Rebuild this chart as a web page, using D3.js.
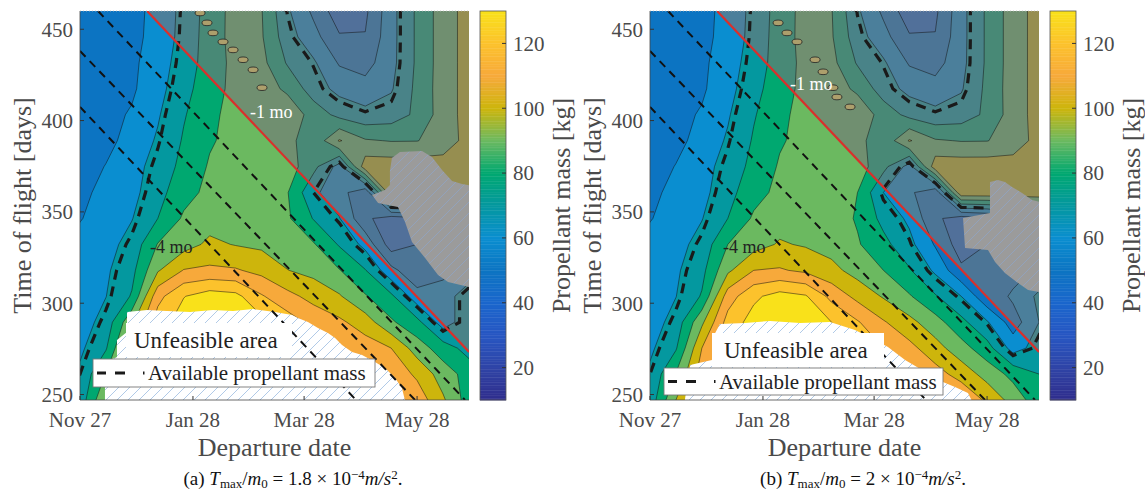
<!DOCTYPE html>
<html><head><meta charset="utf-8">
<script src="https://cdn.jsdelivr.net/npm/d3@7/dist/d3.min.js"></script>
<style>
body{margin:0;background:#fff;}
svg text{font-family:"Liberation Serif","DejaVu Serif",serif;}
</style></head>
<body><svg id="chart" width="1145" height="491"></svg>
<script>
// ---------------- DATA ----------------
// departure day (days after Nov 27) of each grid column
const depDays = [0,14.23,28.47,42.7,56.93,71.17,85.4,99.63,113.87,128.1,142.33,156.57,170.8,185.03,199.27,213.5];
// time of flight (days) of each grid row, top to bottom
const tofDays = [460,445.8,431.6,417.4,403.2,389,374.8,360.6,346.4,332.2,318,303.8,289.6,275.4,261.2,247];
// propellant mass [kg], panel (a)  T/m0 = 1.8e-4
const massA = [
 [53,55,58,62,73.5,84,94,90.5,71.5,58,44,48,66.7,81.7,95,104],
 [53,55.5,58,62.5,74,84.3,94,91,74.3,63.6,51,50.5,66.7,81.7,95,104],
 [53.5,56,58,65.2,74.8,84.5,93,93,79,71.5,59,56,67,81.7,95,104],
 [54,57,58.5,66.6,76.8,85.6,93,95,88,74.9,67,64,69,82.5,95,104],
 [54.5,57,61,69,79.2,87,94.5,96,97,86,77,73,75,82,95,104],
 [54.5,57,63.8,71.2,81,89,93,95,94,82,101,91,89.5,89.7,94,104],
 [55,60.4,66.4,73.8,83,91,94,96,95,83,66,106,106,106,105,105],
 [57,63.5,67,76.5,86.5,92.5,95,97,90.5,72,64,52,108,108,108,108],
 [59.5,64,69.6,80,91.5,96,96,96,91.5,79.5,70.5,52,45,48,55,62],
 [63,66.5,73.6,90.5,96,102,99.5,98,95,91,79,67,45,50,57,63],
 [67,68.5,77,99,110.5,112,111,107,100.2,97,90.5,80.5,63,52,57,64],
 [66,69.8,80.9,116.7,129.6,135,133,121,113,106.6,101,90.9,82,64,65,76],
 [65,74,98,125,135,138,137,133,125,117,112,105,91.5,83,65,76],
 [68,79,110,128,136,138,136,132,127,122,121,115,110,95,85,76],
 [72,90.5,115,125,132,135,134,131,128,126,124,122,117,108,95,86],
 [74,100,112,120,127,130,130,129,127,125,124,122,121,116,101.5,85]
];
// propellant mass [kg], panel (b)  T/m0 = 2e-4
const massB = [
 [53,55,58,62,73.5,84,94,90.5,71.5,58,44,48,66.7,81.7,95,104],
 [53,55.5,58,62.5,74,84.3,94,91,74.3,63.6,51,50.5,66.7,81.7,95,104],
 [53.5,56,58,65.2,74.8,84.5,93,93,79,71.5,59,56,67,81.7,95,104],
 [54,57,58.5,66.6,76.8,85.6,93,95,88,74.9,67,64,69,82.5,95,104],
 [54.5,57,61,69,79.2,87,94.5,96,97,86,77,73,75,82,95,104],
 [54.5,57,63.8,71.2,81,89,93,95,94,82,101,91,89.5,89.7,94,104],
 [55,60.4,66.4,73.8,83,91,94,96,95,83,66,106,106,106,105,105],
 [57,63.5,67,76.5,86.5,92.5,95,97,90,70,62,52,108,108,108,108],
 [59.5,64,69.6,80,91.5,96,96,95,89,77,68,52,45,48,55,62],
 [63,66.5,73.6,90,96,101,99,96,91,83,73,59,45,50,57,63],
 [67,68.5,77,98,110,111,108,103,96,90,81,68,52,50,55,62],
 [66,69.8,80.9,115,128,134,131,117,107,99,91,81,70,52,62,72],
 [65,74,98,124,134,137,136,130,121,111,103,94,83,71,55,70],
 [68,79,110,128,136,138,136,131,126,120,113,104,94,84,66,74],
 [72,90.5,115,125,132,135,134,130,127,124,120,114,106,96,87,80],
 [74,100,112,120,127,130,130,128,126,124,122,120,119,108,96,84]
];
const levels = [10,20,30,40,50,60,70,80,90,100,110,120,130];
const availableMass = 72;
// colour bar (parula-like)
const cmapValues = [10,20,30,40,50,60,70,80,90,100,110,120,130];
const cmapColors = ['#2f2d8c','#2f44a6','#2756c2','#1a66cc','#0c74c2','#0a8ed0','#04989f','#00a870','#6bb960','#cdb50c','#f7a93b','#fcc22c','#f9e11a'];
const cbTicks = [20,40,60,80,100,120];
const xTickDays = [0,62,123,185];
const xTickLabels = ['Nov 27','Jan 28','Mar 28','May 28'];
const yTicks = [250,300,350,400,450];
// constant-arrival lines [departure day, time of flight]
const arrivalLines = [
 [[9.9,460],[211.3,247]],
 [[0,438.1],[183.9,247]],
 [[0,407.5],[151.5,247]]
];
const redLine = [[36.8,460],[213.5,273.3]];
// small high-mass islands along the ridge [departure day, time of flight]
const islandsA = [[65.9,458.9],[69.7,453.5],[73,448],[78.5,443.1],[84,438.7],[89.5,433.3],[95,427.8],[99.9,418]];
const islandsB = [[70.3,453.5],[75.2,448],[80.7,443.1],[90.6,433.3],[95,426.7],[100.4,418],[102.6,412.9],[109.8,407.5]];
// unfeasible (white, hatched) regions
const unfeasibleA = [[13.7,240],[13.7,267.8],[20.3,270.5],[20.3,279.9],[25.8,284.2],[25.8,295.2],[36.8,296.3],[47.7,295.7],[60.4,295.2],[73,296.3],[84,295.7],[95,296.8],[107,295.2],[116.4,293.5],[119.6,291.9],[125.1,289.7],[130.6,286.4],[136.1,283.7],[140,281],[143.8,277.1],[149.3,273.3],[154.8,271.6],[161.9,267.8],[167.4,264.5],[172.9,259],[176.7,253.6],[180,240]];
const unfeasibleB = [[18.1,240],[22,266.2],[34,268.9],[34.6,281.5],[38.4,288.6],[52.1,289.2],[65.9,290.3],[82.3,289.2],[98.8,289.7],[112.5,285.3],[123.5,279.9],[130.6,276],[140,268.9],[149.3,263.4],[158.1,258],[167.4,254.1],[174.5,250.8],[180,240]];
// unfeasible region inside shaded zone (grey, hatched)
const patchA = [[170.1,372.4],[171.2,379.5],[175.6,382.8],[187.7,383.4],[193.2,380.1],[198.7,372.9],[204.2,366.9],[209.7,365.3],[216,364.2],[216,308.3],[202,311.6],[196.5,315.5],[189.4,324.8],[182.2,333.5],[178.4,344.5],[174.5,352.7],[163.6,354.9],[160.3,359.3],[167.4,362],[170.1,364.7]];
const patchB = [[186.6,366.4],[191,367.5],[194.8,366.4],[198.7,363.6],[204.2,360.4],[209.7,356.5],[216,354.9],[216,305.6],[207.5,307.2],[202,311.1],[194.8,316.6],[189.4,322.6],[185.5,329.1],[172.9,330.2],[171.8,346.7],[186.6,349.4]];

// ---------------- DRAW ----------------
const svg = d3.select('#chart');
const defs = svg.append('defs');
function hatch(id,bg,lc){
  const p = defs.append('pattern').attr('id',id).attr('patternUnits','userSpaceOnUse').attr('width',11).attr('height',11);
  p.append('rect').attr('width',11).attr('height',11).attr('fill',bg);
  p.append('path').attr('d','M-1,1 L1,-1 M0,11 L11,0 M10,12 L12,10').attr('stroke',lc).attr('stroke-width',0.7);
}
hatch('hatchWhite','#ffffff','#8fb3dd');
hatch('hatchGray','#9b9b9b','#8ea5c8');

const cmap = d3.scaleLinear().domain(cmapValues).range(cmapColors).clamp(true);
const PW = 389, TOP = 11, BOT = 400;
const n = depDays.length, m = tofDays.length;
const gx = d3.scaleLinear().domain([0.5, n-0.5]).range([depDays[0], depDays[n-1]]);
const gy = d3.scaleLinear().domain([0.5, m-0.5]).range([tofDays[0], tofDays[m-1]]);
const TXT = '#4a4a4a';

const panels = [
 {key:'a', left:80, mass:massA, unf:unfeasibleA, patch:patchA, isl:islandsA, cb:480,
  unfRect:[126,323,166,34], unfText:[134,340], box:[93,359,282,28],
  m1:[250,112], m4:[150,247], cap:{x:293, tag:'(a) ', coef:'1.8'}},
 {key:'b', left:650, mass:massB, unf:unfeasibleB, patch:patchB, isl:islandsB, cb:1050,
  unfRect:[712,333,172,34], unfText:[724,350], box:[664,368,279,27],
  m1:[790,84], m4:[723,247], cap:{x:863, tag:'(b) ', coef:'2'}}
];

panels.forEach(P=>{
  const x = d3.scaleLinear().domain([depDays[0], depDays[n-1]]).range([P.left, P.left+PW]);
  const y = d3.scaleLinear().domain([tofDays[m-1], tofDays[0]]).range([BOT, TOP]);
  const clipId = 'clip'+P.key;
  defs.append('clipPath').attr('id',clipId).append('rect')
    .attr('x',P.left).attr('y',TOP).attr('width',PW).attr('height',BOT-TOP);
  const g = svg.append('g').attr('clip-path',`url(#${clipId})`);
  const proj = d3.geoTransform({point(px,py){ this.stream.point(x(gx(px)), y(gy(py))); }});
  const path = d3.geoPath(proj);
  const flat = P.mass.flat();
  const cs = d3.contours().size([n,m]).thresholds(levels)(flat);
  // filled bands
  g.append('g').selectAll('path').data(cs).join('path')
    .attr('d',path).attr('fill',d=>cmap(d.value)).attr('stroke','none');
  // shaded zone above the -1 month line
  const line = d3.line().x(d=>x(d[0])).y(d=>y(d[1]));
  g.append('path').attr('d', line([redLine[0], redLine[1], [depDays[n-1]+5, redLine[1][1]], [depDays[n-1]+5, tofDays[0]+5], [redLine[0][0], tofDays[0]+5]])+'Z')
    .attr('fill','rgb(116,118,122)').attr('fill-opacity',0.62);
  // contour lines
  g.append('g').selectAll('path').data(cs.filter(d=>d.value>levels[0])).join('path')
    .attr('d',path).attr('fill','none').attr('stroke','#111').attr('stroke-width',0.6).attr('stroke-opacity',0.85);
  // islands
  g.append('g').selectAll('ellipse').data(P.isl).join('ellipse')
    .attr('cx',d=>x(d[0])).attr('cy',d=>y(d[1])).attr('rx',5).attr('ry',2.8)
    .attr('fill','#ad9f6c').attr('stroke','#222').attr('stroke-width',0.8);
  // available propellant mass contour
  const av = d3.contours().size([n,m]).thresholds([availableMass])(flat);
  g.append('g').selectAll('path').data(av).join('path')
    .attr('d',path).attr('fill','none').attr('stroke','#1a1a1a').attr('stroke-width',3.2)
    .attr('stroke-dasharray','10,7');
  // unfeasible regions
  g.append('path').attr('d',line(P.patch)+'Z').attr('fill','url(#hatchGray)');
  g.append('path').attr('d',line(P.unf)+'Z').attr('fill','url(#hatchWhite)');
  // arrival lines
  g.append('g').selectAll('path').data(arrivalLines).join('path')
    .attr('d',line).attr('fill','none').attr('stroke','#111').attr('stroke-width',2).attr('stroke-dasharray','8,6');
  g.append('path').attr('d',line(redLine)).attr('stroke','#d9302c').attr('stroke-width',2.2).attr('fill','none');
  // line labels
  svg.append('text').attr('x',P.m1[0]).attr('y',P.m1[1]).attr('dy','0.35em').attr('fill','#fff').attr('font-size',18).text('-1 mo');
  svg.append('text').attr('x',P.m4[0]).attr('y',P.m4[1]).attr('dy','0.35em').attr('fill','#222').attr('font-size',18).text('-4 mo');

  // axes
  const ax = svg.append('g').attr('fill','none');
  ax.append('line').attr('x1',P.left).attr('x2',P.left).attr('y1',TOP).attr('y2',BOT).attr('stroke','#444').attr('stroke-width',0.8);
  ax.append('line').attr('x1',P.left).attr('x2',P.left+PW).attr('y1',BOT).attr('y2',BOT).attr('stroke','#444').attr('stroke-width',0.8);
  ax.append('line').attr('x1',P.left).attr('x2',P.left+PW).attr('y1',TOP).attr('y2',TOP).attr('stroke','#bbb').attr('stroke-width',0.8).attr('stroke-dasharray','1,2');
  svg.append('g').selectAll('line').data(yTicks).join('line')
    .attr('x1',P.left).attr('x2',P.left+4).attr('y1',d=>y(d)).attr('y2',d=>y(d)).attr('stroke','#333');
  svg.append('g').selectAll('text').data(yTicks).join('text')
    .attr('x',P.left-7).attr('y',d=>y(d)).attr('dy','0.35em').attr('text-anchor','end')
    .attr('font-size',21).attr('fill',TXT).text(d=>d);
  svg.append('g').selectAll('line').data(xTickDays).join('line')
    .attr('x1',d=>x(d)).attr('x2',d=>x(d)).attr('y1',BOT).attr('y2',BOT-4).attr('stroke','#333');
  svg.append('g').selectAll('text').data(xTickDays).join('text')
    .attr('x',d=>x(d)).attr('y',420).attr('dy','0.35em').attr('text-anchor','middle')
    .attr('font-size',21).attr('fill',TXT).text((d,i)=>xTickLabels[i]);
  svg.append('text').attr('x',P.left+PW/2).attr('y',447).attr('dy','0.35em').attr('text-anchor','middle')
    .attr('font-size',26).attr('fill',TXT).text('Departure date');
  svg.append('text').attr('transform',`translate(${P.left-58},${(TOP+BOT)/2}) rotate(-90)`).attr('dy','0.35em')
    .attr('text-anchor','middle').attr('font-size',26).attr('fill',TXT).text('Time of flight [days]');

  // colour bar
  const cy = d3.scaleLinear().domain([cmapValues[0], cmapValues[cmapValues.length-1]]).range([BOT, TOP]);
  const steps = d3.range(cmapValues[0], cmapValues[cmapValues.length-1], 0.5);
  svg.append('g').selectAll('rect').data(steps).join('rect')
    .attr('x',P.cb).attr('width',26).attr('y',d=>cy(d+0.5)).attr('height',d=>cy(d)-cy(d+0.5)+0.4)
    .attr('fill',d=>cmap(d+0.25));
  svg.append('rect').attr('x',P.cb).attr('y',TOP).attr('width',26).attr('height',BOT-TOP)
    .attr('fill','none').attr('stroke','#555').attr('stroke-width',0.8);
  svg.append('g').selectAll('line').data(cbTicks).join('line')
    .attr('x1',P.cb+22).attr('x2',P.cb+26).attr('y1',d=>cy(d)).attr('y2',d=>cy(d)).attr('stroke','#333');
  svg.append('g').selectAll('text').data(cbTicks).join('text')
    .attr('x',P.cb+33).attr('y',d=>cy(d)).attr('dy','0.35em').attr('font-size',21).attr('fill',TXT).text(d=>d);
  svg.append('text').attr('transform',`translate(${P.cb+81},${(TOP+BOT)/2}) rotate(-90)`).attr('dy','0.35em')
    .attr('text-anchor','middle').attr('font-size',26).attr('fill',TXT).text('Propellant mass [kg]');

  // legend
  svg.append('rect').attr('x',P.unfRect[0]).attr('y',P.unfRect[1]).attr('width',P.unfRect[2]).attr('height',P.unfRect[3]).attr('fill','#fff');
  svg.append('text').attr('x',P.unfText[0]).attr('y',P.unfText[1]).attr('dy','0.35em').attr('font-size',23).attr('fill','#222').text('Unfeasible area');
  const b = P.box;
  svg.append('rect').attr('x',b[0]).attr('y',b[1]).attr('width',b[2]).attr('height',b[3]).attr('fill','#fff').attr('stroke','#777').attr('stroke-width',0.9);
  const ly = b[1]+b[3]/2;
  svg.append('path').attr('d',`M${b[0]+4},${ly}H${b[0]+13}M${b[0]+22},${ly}H${b[0]+32}M${b[0]+50},${ly}H${b[0]+51.5}`)
    .attr('stroke','#1a1a1a').attr('stroke-width',3.2);
  svg.append('text').attr('x',b[0]+55).attr('y',ly).attr('dy','0.35em').attr('font-size',21).attr('fill','#222').text('Available propellant mass');

  // caption
  const t = svg.append('text').attr('x',P.cap.x).attr('y',485).attr('text-anchor','middle').attr('font-size',19).attr('fill','#111');
  t.append('tspan').text(P.cap.tag);
  t.append('tspan').attr('font-style','italic').text('T');
  t.append('tspan').attr('font-size',13).attr('dy',3).text('max');
  t.append('tspan').attr('dy',-3).text('/');
  t.append('tspan').attr('font-style','italic').text('m');
  t.append('tspan').attr('font-size',13).attr('dy',3).text('0');
  t.append('tspan').attr('dy',-3).text(' = '+P.cap.coef+' × 10');
  t.append('tspan').attr('font-size',13).attr('dy',-6).text('−4');
  t.append('tspan').attr('dy',6).attr('font-style','italic').text('m/s');
  t.append('tspan').attr('font-size',13).attr('dy',-6).text('2');
  t.append('tspan').attr('dy',6).text('.');
});
</script></body></html>
